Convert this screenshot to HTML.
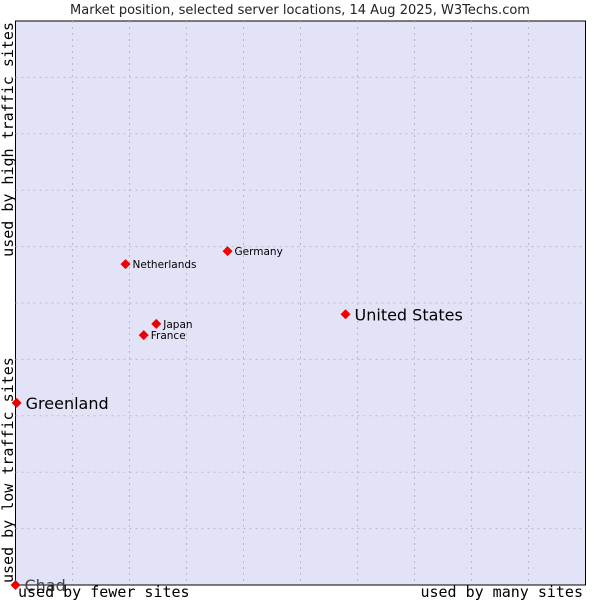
<!DOCTYPE html>
<html><head><meta charset="utf-8"><style>
body{margin:0;background:#fff;width:600px;height:600px;overflow:hidden}
svg{display:block}
</style></head><body>
<svg id="chart" width="600" height="600" xmlns="http://www.w3.org/2000/svg">
<text x="300" y="14" text-anchor="middle" font-family="DejaVu Sans, sans-serif" font-size="13" fill="#222">Market position, selected server locations, 14 Aug 2025, W3Techs.com</text>
<rect x="15.5" y="21" width="570" height="564" fill="#e3e3f8" stroke="#000" stroke-width="1"/>
<g id="grid"></g>
<g id="points"></g>
<text x="18" y="597" font-family="DejaVu Sans Mono, Liberation Mono, monospace" font-size="15" fill="#000">used by fewer sites</text>
<text x="583" y="597" text-anchor="end" font-family="DejaVu Sans Mono, Liberation Mono, monospace" font-size="15" fill="#000">used by many sites</text>
<text transform="translate(13,22) rotate(-90)" text-anchor="end" font-family="DejaVu Sans Mono, Liberation Mono, monospace" font-size="15" fill="#000">used by high traffic sites</text>
<text transform="translate(13,583) rotate(-90)" font-family="DejaVu Sans Mono, Liberation Mono, monospace" font-size="15" fill="#000">used by low traffic sites</text>
</svg>
<script>
const countries = ["Chad","Greenland","United States","Germany","Netherlands","Japan","France"];
const xValues = [0, 0.2, 57.9, 37.2, 19.3, 24.7, 22.5];
const yValues = [0, 32.3, 48.0, 59.2, 56.9, 46.3, 44.3];
const bigLabel = [true, true, true, false, false, false, false];

const X0=15.5, X1=585.5, Y0=585, Y1=21;
const sx = v => X0 + v/100*(X1-X0);
const sy = v => Y0 - v/100*(Y0-Y1);
const NS="http://www.w3.org/2000/svg";
const grid=document.getElementById('grid');
for(let i=1;i<10;i++){
  const lv=document.createElementNS(NS,'line');
  
  
  lv.setAttribute('x1',sx(i*10));lv.setAttribute('x2',sx(i*10));
  lv.setAttribute('y1',Y1);lv.setAttribute('y2',Y0);
  lv.setAttribute('stroke','#bbb');lv.setAttribute('stroke-dasharray','2,4');
  grid.appendChild(lv);
  const lh=document.createElementNS(NS,'line');
  
  
  lh.setAttribute('y1',sy(i*10));lh.setAttribute('y2',sy(i*10));
  lh.setAttribute('x1',X0);lh.setAttribute('x2',X1);
  lh.setAttribute('stroke','#bbb');lh.setAttribute('stroke-dasharray','2,4');
  grid.appendChild(lh);
}
const pts=document.getElementById('points');
countries.forEach((c,i)=>{
  const x=sx(xValues[i]), y=sy(yValues[i]);
  const m=document.createElementNS(NS,'path');
  
  
  m.setAttribute('d',`M${x} ${y-5}L${x+5} ${y}L${x} ${y+5}L${x-5} ${y}Z`);
  m.setAttribute('fill','#e00');
  pts.appendChild(m);
  const t=document.createElementNS(NS,'text');
  
  
  t.setAttribute('x',x+(bigLabel[i]?9:7));
  t.setAttribute('y',y+(bigLabel[i]?6:4));
  t.setAttribute('font-family','DejaVu Sans, sans-serif');
  t.setAttribute('font-size',bigLabel[i]?'16':'10.5');
  t.setAttribute('fill',c==="Chad"?'#444':'#000');
  t.textContent=c;
  pts.appendChild(t);
});
</script>
</body></html>
